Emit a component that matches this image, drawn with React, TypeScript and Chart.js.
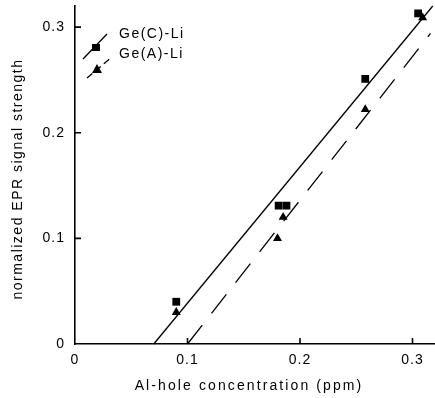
import React, { useEffect, useRef } from "react";
import { Chart, registerables } from "chart.js";

Chart.register(...registerables);

// ---- data ----
const concC = [0.09, 0.181, 0.188, 0.258, 0.305];
const signalC = [0.04, 0.131, 0.131, 0.251, 0.313];
const concA = [0.09, 0.18, 0.185, 0.258, 0.309];
const signalA = [0.03, 0.1, 0.12, 0.222, 0.309];
const fitCx = [0.07, 0.318];
const fitCy = [0, 0.32];
const fitAx = [0.1, 0.316];
const fitAy = [0, 0.294];
const xTicks = [0, 0.1, 0.2, 0.3];
const yTicks = [0, 0.1, 0.2, 0.3];
const legendLabels = ["Ge(C)-Li", "Ge(A)-Li"];
const xTitle = "Al-hole concentration (ppm)";
const yTitle = "normalized EPR signal strength";

const FONT = '"Liberation Sans", Arial, sans-serif';

const toPts = (xs: number[], ys: number[]) => xs.map((x, i) => ({ x, y: ys[i] }));
const fmt = (v: number) => (v === 0 ? "0" : v.toFixed(1));

const spacingPlugin = {
  id: "spacing",
  beforeLayout(chart: any) {
    chart.ctx.letterSpacing = "1px";
  },
  beforeDraw(chart: any) {
    chart.ctx.letterSpacing = "1px";
  },
};

const decorPlugin = {
  id: "decor",
  afterDraw(chart: any) {
    const { ctx, chartArea, scales } = chart;
    const xs = scales.x;
    const ys = scales.y;
    ctx.save();
    // inward tick marks
    ctx.strokeStyle = "#000";
    ctx.lineWidth = 1.6;
    ctx.setLineDash([]);
    ctx.beginPath();
    xTicks.forEach((v) => {
      if (v === 0) return;
      const px = xs.getPixelForValue(v);
      ctx.moveTo(px, chartArea.bottom);
      ctx.lineTo(px, chartArea.bottom - 6);
    });
    yTicks.forEach((v) => {
      if (v === 0) return;
      const py = ys.getPixelForValue(v);
      ctx.moveTo(chartArea.left, py);
      ctx.lineTo(chartArea.left + 6, py);
    });
    ctx.stroke();

    // axis titles
    ctx.fillStyle = "#000";
    ctx.font = `14px ${FONT}`;
    ctx.letterSpacing = "2.1px";
    ctx.textAlign = "center";
    ctx.textBaseline = "alphabetic";
    ctx.fillText(xTitle, (chartArea.left + chartArea.right) / 2 - 6, 390);
    ctx.save();
    ctx.translate(22, (chartArea.top + chartArea.bottom) / 2 + 4);
    ctx.rotate(-Math.PI / 2);
    ctx.letterSpacing = "1.5px";
    ctx.fillText(yTitle, 0, 0);
    ctx.restore();

    // legend
    const L = chartArea.left;
    const T = chartArea.top;
    ctx.lineWidth = 1.3;
    // solid + square
    ctx.beginPath();
    ctx.moveTo(L + 8, T + 53);
    ctx.lineTo(L + 32, T + 28);
    ctx.stroke();
    ctx.fillRect(L + 17, T + 38, 8, 7);
    // dashed + triangle
    ctx.setLineDash([7, 4]);
    ctx.beginPath();
    ctx.moveTo(L + 12, T + 72);
    ctx.lineTo(L + 37, T + 51);
    ctx.stroke();
    ctx.setLineDash([]);
    ctx.beginPath();
    ctx.moveTo(L + 22, T + 58);
    ctx.lineTo(L + 27, T + 67);
    ctx.lineTo(L + 17, T + 67);
    ctx.closePath();
    ctx.fill();
    ctx.textAlign = "left";
    ctx.letterSpacing = "1.5px";
    ctx.fillText(legendLabels[0], L + 44, T + 32);
    ctx.fillText(legendLabels[1], L + 44, T + 52);
    ctx.restore();
  },
};

export default function App() {
  const ref = useRef<HTMLCanvasElement | null>(null);
  useEffect(() => {
    if (!ref.current) return;
    const chart = new Chart(ref.current, {
      type: "scatter",
      data: {
        datasets: [
          {
            label: legendLabels[0],
            data: toPts(concC, signalC),
            pointStyle: "rect",
            pointRadius: 5.5,
            backgroundColor: "#000",
            borderColor: "#000",
            borderWidth: 0,
            clip: false as any,
          },
          {
            label: legendLabels[1],
            data: toPts(concA, signalA),
            pointStyle: "triangle",
            pointRadius: 5.2,
            backgroundColor: "#000",
            borderColor: "#000",
            borderWidth: 0,
            clip: false as any,
          },
          {
            label: "fit C",
            data: toPts(fitCx, fitCy),
            showLine: true,
            pointRadius: 0,
            borderColor: "#000",
            borderWidth: 1.3,
            clip: false as any,
          },
          {
            label: "fit A",
            data: toPts(fitAx, fitAy),
            showLine: true,
            pointRadius: 0,
            borderColor: "#000",
            borderWidth: 1.3,
            borderDash: [24, 15],
            clip: false as any,
          },
        ],
      },
      options: {
        responsive: false,
        animation: false,
        layout: { autoPadding: false, padding: { top: 6, right: 0, left: 0, bottom: 0 } },
        plugins: {
          legend: { display: false },
          tooltip: { enabled: false },
        },
        scales: {
          x: {
            type: "linear",
            min: 0,
            max: 0.32,
            afterBuildTicks: (s: any) => {
              s.ticks = xTicks.map((v) => ({ value: v }));
            },
            afterFit: (s: any) => {
              s.height = 54;
              s.paddingLeft = 0;
              s.paddingRight = 0;
            },
            grid: { display: false, drawTicks: false },
            border: { display: true, color: "#000", width: 1.6 },
            ticks: {
              color: "#000",
              font: { family: FONT, size: 14 },
              padding: 8,
              maxRotation: 0,
              callback: (v: any) => fmt(Number(v)),
            },
          },
          y: {
            type: "linear",
            min: 0,
            max: 0.32,
            afterBuildTicks: (s: any) => {
              s.ticks = yTicks.map((v) => ({ value: v }));
            },
            afterFit: (s: any) => {
              s.width = 75;
              s.paddingTop = 0;
              s.paddingBottom = 0;
            },
            grid: { display: false, drawTicks: false },
            border: { display: true, color: "#000", width: 1.6 },
            ticks: {
              color: "#000",
              font: { family: FONT, size: 14 },
              padding: 10,
              callback: (v: any) => fmt(Number(v)),
            },
          },
        },
      },
      plugins: [spacingPlugin, decorPlugin],
    });
    return () => chart.destroy();
  }, []);
  return (
    <canvas
      ref={ref}
      width={435}
      height={398}
      style={{ position: "absolute", left: 0, top: 0, display: "block", background: "#fff" }}
    />
  );
}
